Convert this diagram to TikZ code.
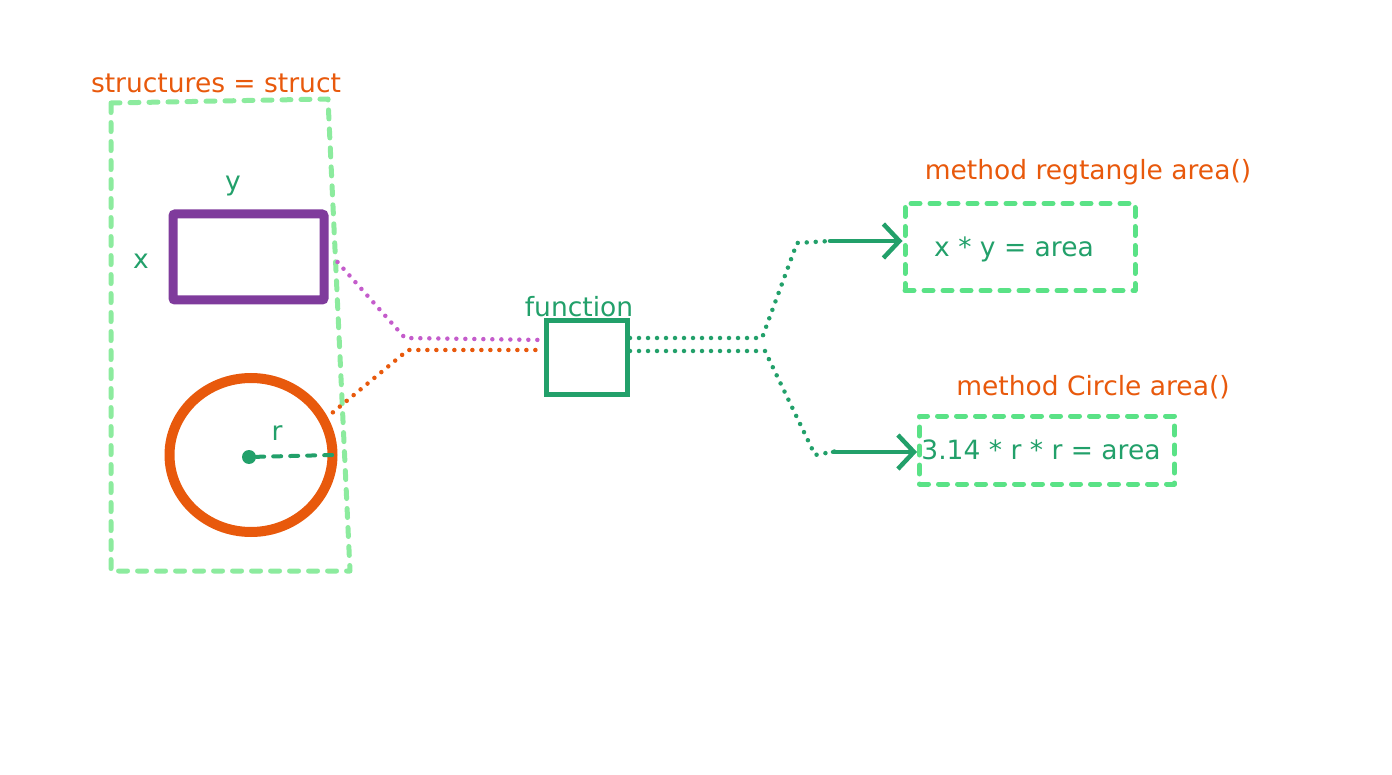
\documentclass[tikz,border=0pt]{standalone}
\usepackage{fontspec}
\setmainfont{DejaVu Sans}
\usetikzlibrary{arrows.meta,shapes.geometric}
\definecolor{orng}{HTML}{E8590C}
\definecolor{grn}{HTML}{22A06A}
\definecolor{purp}{HTML}{7F3B9C}
\definecolor{pinkc}{HTML}{C45CCB}
\definecolor{lgrn}{HTML}{8CEB9E}
\definecolor{mgrn}{HTML}{5AE286}
\begin{document}
\begin{tikzpicture}[x=1pt,y=-1pt,
    every node/.style={font=\fontsize{26.5}{30}\selectfont, inner sep=0pt},
    title/.style={text=orng},
    var/.style={text=grn},
    dotline/.style={line width=4.5pt, dash pattern=on 0pt off 9pt, line cap=round},
    dashbox/.style={draw=mgrn, line width=5pt, dash pattern=on 9pt off 10pt, line cap=round, line join=round},
    arr/.style={draw=grn, line width=4.5pt, line cap=round, -{Straight Barb[length=16pt,width=34pt,line width=4.5pt]}}]
  \useasboundingbox (0,0) rectangle (1392,775);
  % struct
  \node[title] (stitle) at (216,83) {structures = struct};
  \draw[lgrn, line width=5pt, dash pattern=on 9pt off 10pt, line cap=round, line join=round]
    (111,103) -- (328,99) -- (350,571) -- (111,571) -- cycle;
  \node[draw=purp, line width=9pt, rounded corners=2pt, minimum width=151pt, minimum height=86pt] (rect) at (248.5,257) {};
  \node[var] (ylab) at (233,186) {y};
  \node[var] (xlab) at (141,261) {x};
  \node[ellipse, draw=orng, line width=10pt, minimum width=163pt, minimum height=154pt] (circ) at (251,455) {};
  \node[circle, fill=grn, minimum size=14pt] (ctr) at (249,457) {};
  \node[var] (rlab) at (277,433) {r};
  \draw[grn, line width=4pt, dash pattern=on 8pt off 9pt, line cap=round] (ctr) -- ([xshift=-5pt]circ.east);
  % function
  \node[draw=grn, line width=5pt, minimum width=81pt, minimum height=74pt] (func) at (587,358) {};
  \node[var] (flab) at (579,307) {function};
  \coordinate (pb) at (405,338);
  \coordinate (ob) at (408,350);
  \draw[dotline, pinkc] ([xshift=9pt,yshift=-5pt]rect.east) -- (pb) -- ([yshift=18pt]func.west);
  \draw[dotline, orng] ([xshift=8pt]circ.30) -- (ob) -- ([yshift=8pt]func.west);
  % methods
  \node[title] (m1title) at (1088,172) {method regtangle area()};
  \node[dashbox, minimum width=230pt, minimum height=87pt] (box1) at (1020,247) {};
  \node[var] (m1text) at (1014,249) {x * y = area};
  \node[title] (m2title) at (1093,387) {method Circle area()};
  \node[dashbox, minimum width=255pt, minimum height=68pt] (box2) at (1047,450) {};
  \node[var] (m2text) at (1041,450) {3.14 * r * r = area};
  \coordinate (u1) at (762,338);
  \coordinate (u2) at (797,243);
  \coordinate (u3) at (830,241);
  \coordinate (d1) at (765,351);
  \coordinate (d2) at (815,455);
  \coordinate (d3) at (843,450);
  \draw[dotline, grn] ([yshift=20pt]func.east) -- (u1) -- (u2) -- (u3);
  \draw[dotline, grn] ([yshift=7pt]func.east) -- (d1) -- (d2) -- (d3);
  \draw[arr] (u3) -- ([yshift=6pt]box1.west);
  \draw[arr] ([xshift=-10pt,yshift=-2pt]d3) -- ([yshift=-2pt]box2.west);
\end{tikzpicture}
\end{document}
